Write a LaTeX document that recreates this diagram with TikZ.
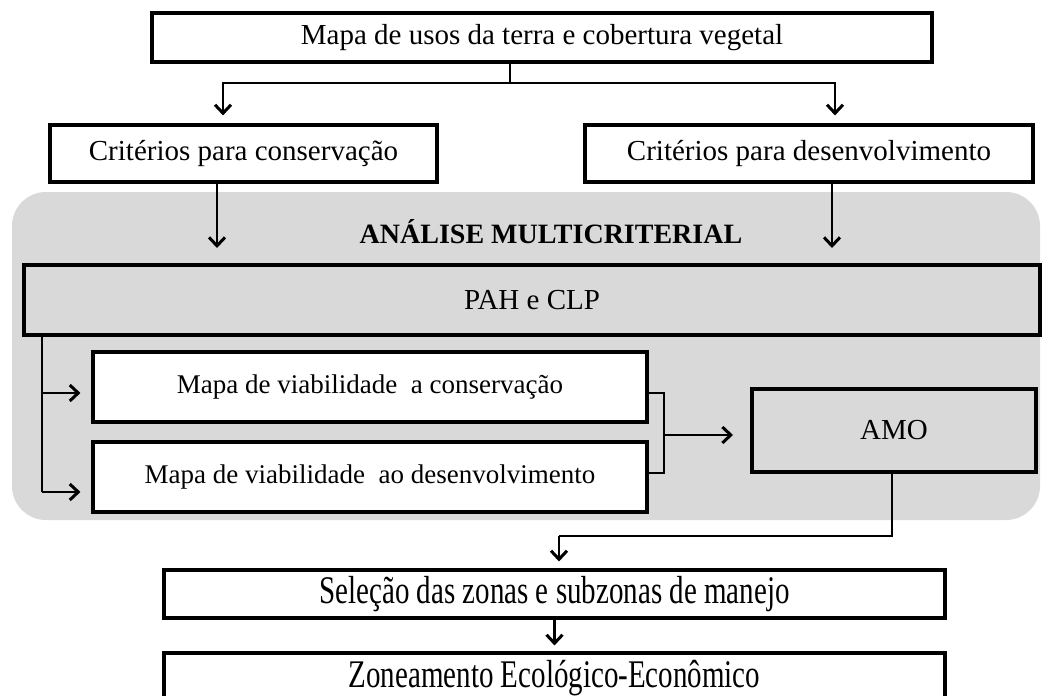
\documentclass[tikz,border=0pt]{standalone}
\usepackage{fontspec}
\setmainfont{Liberation Serif}
\usetikzlibrary{arrows.meta,calc}
\definecolor{bggray}{RGB}{217,217,217}
\tikzset{
  box/.style={draw=black, line width=3.1pt, fill=white, inner sep=0pt, anchor=center,
    font=\fontsize{29}{31}\selectfont},
  graybox/.style={box, fill=bggray},
  arr/.style={line width=2.6pt, -{Straight Barb[length=8.5pt,width=16pt,line width=3pt]}},
  line/.style={line width=2.6pt},
}
\begin{document}
\begin{tikzpicture}[x=1pt,y=-1pt]
\useasboundingbox (0,0) rectangle (1042,696);
% background panel
\fill[bggray, rounded corners=34pt] (12,192) rectangle (1040,520);
\node[font=\bfseries\fontsize{28}{30}\selectfont] (title) at (551,232) {ANÁLISE MULTICRITERIAL};

% nodes
\node[box, minimum width=780pt, minimum height=49pt] (top) at (542,37.5) {Mapa de usos da terra e cobertura vegetal};
\node[box, minimum width=387pt, minimum height=57pt] (crc) at (243.5,153.5) {Critérios para conservação};
\node[box, minimum width=448pt, minimum height=57pt] (crd) at (809,153.5) {Critérios para desenvolvimento};
\node[graybox, minimum width=1016pt, minimum height=70pt] (pah) at (532,300) {PAH e CLP};
\node[box, minimum width=554pt, minimum height=70pt, font=\fontsize{27}{29}\selectfont] (mvc) at (370,387) {Mapa de viabilidade\ \ a conservação};
\node[box, minimum width=554pt, minimum height=70pt, font=\fontsize{27}{29}\selectfont] (mvd) at (370,477) {Mapa de viabilidade\ \ ao desenvolvimento};
\node[graybox, minimum width=284pt, minimum height=83pt] (amo) at (894,430.5) {AMO};
\node[box, minimum width=781pt, minimum height=48pt] (sel) at (554.5,594) {\scalebox{1}[1.35]{Seleção das zonas e subzonas de manejo}};
\node[box, minimum width=781pt, minimum height=50pt] (zee) at (554.5,678) {\scalebox{1}[1.35]{Zoneamento Ecológico-Econômico}};

% junction coordinates
\coordinate (s1) at (510,83);
\coordinate (jl) at (223,83);
\coordinate (jr) at (835,83);
\coordinate (al) at (217,248);
\coordinate (ar) at (832,248);
\coordinate (vb) at (42,0);
\coordinate (br) at (664,0);
\coordinate (amoin) at (733,435);
\coordinate (dn) at (892,536);
\coordinate (sx) at (559,536);

% connectors
\draw[line] (top.south -| s1) -- (s1);
\draw[arr] (s1) -| ([yshift=8pt]crc.north -| jl);
\draw[arr] (s1) -| ([yshift=8pt]crd.north -| jr);
\draw[arr] (crc.south -| al) -- (al);
\draw[arr] (crd.south -| ar) -- (ar);
\draw[line] (pah.south -| vb) -- ([yshift=-15pt]mvd.west -| vb);
\draw[arr] ([yshift=-6pt]mvc.west -| vb) -- ([xshift=-11pt,yshift=-6pt]mvc.west);
\draw[arr] ([yshift=-15pt]mvd.west -| vb) -- ([xshift=-11pt,yshift=-15pt]mvd.west);
\draw[line] ([yshift=-6pt]mvc.east) -| (br |- amoin) |- ([yshift=4pt]mvd.east);
\draw[arr] (br |- amoin) -- (amoin);
\draw[line] (amo.south -| dn) -- (dn) -- (sx);
\draw[arr] (sx) -- ([yshift=7pt]sel.north -| sx);
\draw[arr] (sel.south) -- ([yshift=6pt]zee.north);
\end{tikzpicture}
\end{document}
